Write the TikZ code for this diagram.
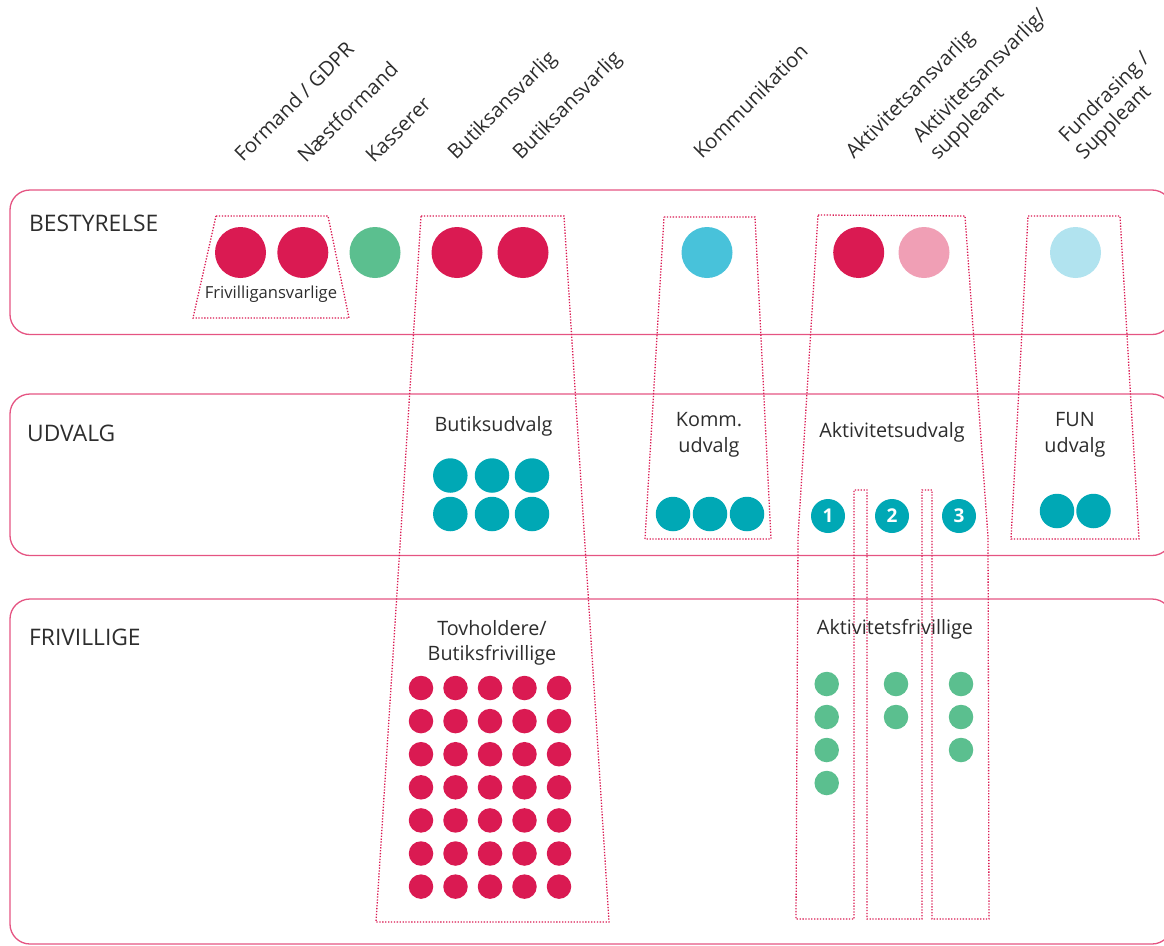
\documentclass[tikz,border=0pt]{standalone}
\usepackage{fontspec}
\setmainfont{Open Sans}
\definecolor{lanecol}{RGB}{229,84,130}
\definecolor{dotred}{RGB}{218,26,82}
\definecolor{rred}{RGB}{218,26,82}
\definecolor{rgreen}{RGB}{91,191,143}
\definecolor{rcyan}{RGB}{72,194,218}
\definecolor{rpink}{RGB}{240,159,181}
\definecolor{rlcyan}{RGB}{177,227,239}
\definecolor{rteal}{RGB}{0,168,181}
\definecolor{txt}{RGB}{45,45,45}
\begin{document}
\begin{tikzpicture}[x=1pt,y=-1pt,
  lane/.style={draw=lanecol, line width=1.3pt, rounded corners=20pt},
  outline/.style={draw=dotred, line width=1.3pt, dash pattern=on 1.3pt off 1.6pt},
  bigdot/.style={circle, fill=#1, minimum size=51pt, inner sep=0pt},
  middot/.style={circle, fill=#1, minimum size=34.5pt, inner sep=0pt},
  smalldot/.style={circle, fill=#1, minimum size=24.5pt, inner sep=0pt},
  numdot/.style={circle, fill=rteal, minimum size=34pt, inner sep=0pt, text=white, font=\fontsize{19}{19}\selectfont\bfseries},
  rowlabel/.style={anchor=west, inner sep=0pt, text=txt, font=\fontsize{22.8}{26}\selectfont},
  grouplabel/.style={text=txt, inner sep=0pt, align=center, font=\fontsize{19.8}{25.5}\selectfont},
  smalllabel/.style={text=txt, inner sep=0pt, font=\fontsize{16.6}{20}\selectfont},
  rolelabel/.style={rotate=45, anchor=base west, inner sep=0pt, text=txt, align=left, font=\fontsize{20.3}{24}\selectfont},
]
\useasboundingbox (0,0) rectangle (1164,945);
\clip (0,0) rectangle (1164,945);

% lanes
\draw[lane] (10,190) rectangle (1172,334.5);
\draw[lane] (10,394) rectangle (1172,555.5);
\draw[lane] (10,599) rectangle (1172,944);

\node[rowlabel] (lb) at (29,223) {BESTYRELSE};
\node[rowlabel] (lu) at (27,433) {UDVALG};
\node[rowlabel] (lf) at (29,637) {FRIVILLIGE};

% role labels
\node[rolelabel] (r1) at (243,163) {Formand / GDPR};
\node[rolelabel] (r2) at (306,164) {Næstformand};
\node[rolelabel] (r3) at (374,164) {Kasserer};
\node[rolelabel] (r4) at (456,161) {Butiksansvarlig};
\node[rolelabel] (r5) at (521,161) {Butiksansvarlig};
\node[rolelabel] (r6) at (702,160) {Kommunikation};
\node[rolelabel] (r7) at (854,160) {Aktivitetsansvarlig};
\node[rolelabel] (r8) at (938,161) {Aktivitetsansvarlig/\\suppleant};
\node[rolelabel] (r9) at (1084,161) {Fundrasing /\\Suppleant};

% dotted outlines
\draw[outline] (216,216) -- (328,216) -- (349,318) -- (193,318) -- cycle;
\draw[outline] (421,216) -- (564,216) -- (609,922) -- (376,922) -- cycle;
\draw[outline] (664,217) -- (755,217) -- (771,539) -- (645,539) -- cycle;
\draw[outline] (1028,216) -- (1120,216) -- (1139,539) -- (1011,539) -- cycle;
\draw[outline] (818,215) -- (965,216) -- (988,537) -- (989,919) -- (932,919)
  -- (932,490) -- (922,490) -- (922,919) -- (867,919) -- (867,490)
  -- (854,490) -- (854,919) -- (796,919) -- (798,537) -- cycle;

% bestyrelse circles
\node[bigdot=rred] (b1) at (240.5,252.5) {};
\node[bigdot=rred] (b2) at (302.8,252.5) {};
\node[bigdot=rgreen] (b3) at (375,252.5) {};
\node[bigdot=rred] (b4) at (457,252.5) {};
\node[bigdot=rred] (b5) at (523,252.5) {};
\node[bigdot=rcyan] (b6) at (707,252.5) {};
\node[bigdot=rred] (b7) at (858.7,252.5) {};
\node[bigdot=rpink] (b8) at (924,252.5) {};
\node[bigdot=rlcyan] (b9) at (1075.5,252.5) {};
\node[smalllabel] (fa) at (271,294) {Frivilligansvarlige};

% udvalg
\node[grouplabel] (gbu) at (493.5,426) {Butiksudvalg};
\foreach \x [count=\i] in {450.3,492,532}{
  \node[middot=rteal] (bu1\i) at (\x,475.5) {};
  \node[middot=rteal] (bu2\i) at (\x,514) {};
}
\node[grouplabel] (gko) at (709,435) {Komm.\\udvalg};
\foreach \x [count=\i] in {673,710,747}{
  \node[middot=rteal] (ko\i) at (\x,514) {};
}
\node[grouplabel] (gak) at (892,432) {Aktivitetsudvalg};
\node[numdot] (n1) at (828,516) {1};
\node[numdot] (n2) at (892,516) {2};
\node[numdot] (n3) at (959,516) {3};
\node[grouplabel] (gfu) at (1075,435) {FUN\\udvalg};
\node[middot=rteal] (fu1) at (1057,511) {};
\node[middot=rteal] (fu2) at (1093.5,511) {};

% frivillige
\node[grouplabel] (gtv) at (492,643) {Tovholdere/\\Butiksfrivillige};
\foreach \c in {0,...,4}{
  \foreach \r in {0,...,6}{
    \node[smalldot=rred] (tv\c\r) at (421+34.5*\c, 688+33.1*\r) {};
  }
}
\node[grouplabel] (gaf) at (895,629) {Aktivitetsfrivillige};
\foreach \r in {0,...,3}{ \node[smalldot=rgreen] (a1\r) at (826.7,684+33*\r) {}; }
\foreach \r in {0,...,1}{ \node[smalldot=rgreen] (a2\r) at (896,684+33*\r) {}; }
\foreach \r in {0,...,2}{ \node[smalldot=rgreen] (a3\r) at (961,684+33*\r) {}; }
\end{tikzpicture}
\end{document}
